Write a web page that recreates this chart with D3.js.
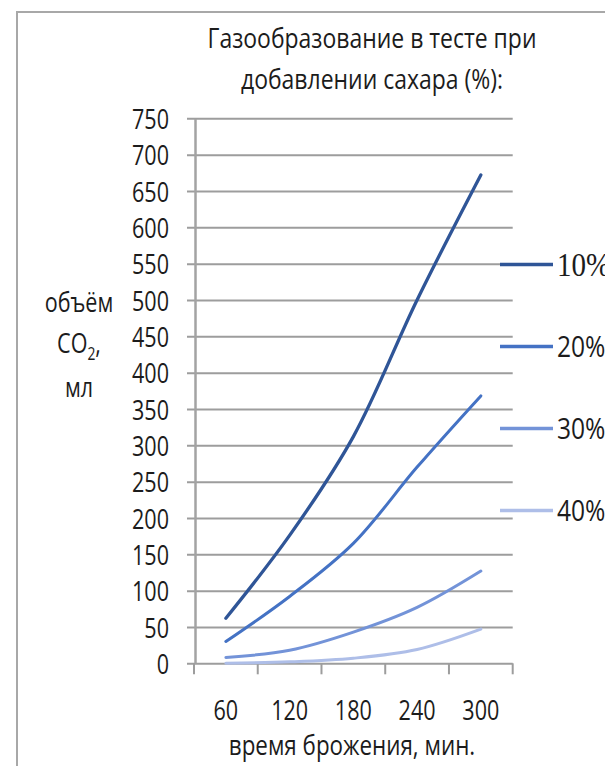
<!DOCTYPE html>
<html>
<head>
<meta charset="utf-8">
<script src="https://cdn.jsdelivr.net/npm/d3@7"></script>
<style>
  html, body { margin: 0; padding: 0; background: #fff; }
  svg { display: block; }
  text { font-family: "Open Sans", Calibri, sans-serif; fill: #1c1c1c; }
</style>
</head>
<body>
<svg id="chart" width="605" height="766"></svg>
<script>
// Gas production in dough, CO2 volume (ml) by fermentation time (min)
const categories = ["60", "120", "180", "240", "300"];
const seriesNames = ["10%", "20%", "30%", "40%"];
const sugar10 = [62, 176, 312, 500, 672];
const sugar20 = [30, 92, 165, 270, 368];
const sugar30 = [8, 18, 43, 77, 127];
const sugar40 = [0, 2, 7, 19, 47];
const yTicks = [0, 50, 100, 150, 200, 250, 300, 350, 400, 450, 500, 550, 600, 650, 700, 750];
const titleLines = ["Газообразование в тесте при", "добавлении сахара (%):"];
const xTitle = "время брожения, мин.";
const colors = ["#2f5597", "#4472c4", "#7393d8", "#aebee8"];

const series = seriesNames.map((name, i) => ({
  name, values: [sugar10, sugar20, sugar30, sugar40][i], color: colors[i]
}));

const svg = d3.select("#chart");
const SX = 0.77;           // horizontal squeeze for the condensed lettering
const FS = 28;

const plot = { left: 194, right: 512.7, top: 118.3, bottom: 663.3 };

const x = d3.scaleBand().domain(categories).range([plot.left, plot.right]).padding(0);
const y = d3.scaleLinear().domain([0, 750]).range([plot.bottom, plot.top]);

// Outer frame
svg.append("rect")
  .attr("x", 17).attr("y", 12).attr("width", 700).attr("height", 800)
  .attr("fill", "none").attr("stroke", "#a8a8a8").attr("stroke-width", 2);

// Title
svg.append("g").selectAll("text").data(titleLines).join("text")
  .attr("transform", (d, i) => `translate(372,${48 + i * 41}) scale(0.82,1)`)
  .attr("text-anchor", "middle")
  .style("font-size", FS + "px")
  .text(d => d);

// Horizontal gridlines
const grid = svg.append("g")
  .attr("transform", `translate(${plot.right},0)`)
  .call(d3.axisLeft(y).tickValues(yTicks).tickSize(plot.right - 187).tickFormat(""));
grid.select(".domain").remove();
grid.selectAll(".tick line").attr("stroke", "#9d9d9d").attr("stroke-width", 2);

// Y axis line and labels
const yAxis = svg.append("g")
  .attr("transform", `translate(195,0)`)
  .call(d3.axisLeft(y).tickValues(yTicks).tickSize(0).tickSizeOuter(0));
yAxis.select(".domain").attr("stroke", "#a3a3a3").attr("stroke-width", 2.5);
yAxis.selectAll(".tick text")
  .attr("x", 0).attr("dy", "0.36em")
  .attr("transform", `translate(-26,0) scale(${SX},1)`)
  .attr("text-anchor", "end")
  .style("font-family", "'Open Sans', sans-serif")
  .style("font-size", FS + "px")
  .attr("fill", "#1c1c1c");

// X axis: baseline, boundary ticks, centred category labels
const xAxis = svg.append("g")
  .attr("transform", `translate(0,${plot.bottom})`)
  .call(d3.axisBottom(x).tickSize(0).tickSizeOuter(0));
xAxis.select(".domain").remove();
xAxis.selectAll(".tick text")
  .attr("y", 0).attr("dy", 0)
  .attr("transform", `translate(0,${720 - plot.bottom}) scale(${SX},1)`)
  .style("font-family", "'Open Sans', sans-serif")
  .style("font-size", FS + "px")
  .attr("fill", "#1c1c1c");

const bounds = categories.map(c => x(c)).concat([x(categories[categories.length - 1]) + x.bandwidth()]);
svg.append("g").selectAll("line").data(bounds).join("line")
  .attr("x1", d => d).attr("x2", d => d)
  .attr("y1", plot.bottom).attr("y2", plot.bottom + 11)
  .attr("stroke", "#9d9d9d").attr("stroke-width", 2);

// Axis titles
svg.append("text")
  .attr("transform", `translate(352,755) scale(0.8,1)`)
  .attr("text-anchor", "middle")
  .style("font-size", FS + "px")
  .text(xTitle);

const yTitle = svg.append("g").attr("text-anchor", "middle").style("font-size", FS + "px");
yTitle.append("text").attr("transform", `translate(79,312) scale(${SX},1)`).text("объём");
const co2 = yTitle.append("text").attr("transform", `translate(79,353) scale(${SX},1)`);
co2.append("tspan").text("CO");
co2.append("tspan").attr("dy", 7).style("font-size", "18px").text("2");
co2.append("tspan").attr("dy", -7).text(",");
yTitle.append("text").attr("transform", `translate(79,397) scale(${SX},1)`).text("мл");

// Series lines
const line = d3.line()
  .x((d, i) => x(categories[i]) + x.bandwidth() / 2)
  .y(d => y(d))
  .curve(d3.curveCatmullRom.alpha(0.5));

svg.append("g").selectAll("path").data(series).join("path")
  .attr("d", d => line(d.values))
  .attr("fill", "none")
  .attr("stroke", d => d.color)
  .attr("stroke-width", d => d.name === "10%" ? 3.3 : 3)
  .attr("stroke-linecap", "round");

// Legend
const legend = svg.append("g").selectAll("g").data(series).join("g")
  .attr("transform", (d, i) => `translate(500,${264.5 + i * 82})`);
legend.append("line")
  .attr("x1", 0).attr("x2", 53).attr("y1", 0).attr("y2", 0)
  .attr("stroke", d => d.color).attr("stroke-width", 3.5);
legend.append("text")
  .attr("transform", (d, i) => i === 0 ? `translate(57,0) scale(0.88,1)` : `translate(57,0) scale(0.82,1)`)
  .attr("dy", "0.36em")
  .style("font-size", (d, i) => i === 0 ? "33px" : "30px")
  .style("font-family", (d, i) => i === 0 ? "'Liberation Serif', 'Times New Roman', serif" : "'Open Sans', sans-serif")
  .text(d => d.name);
</script>
</body>
</html>
